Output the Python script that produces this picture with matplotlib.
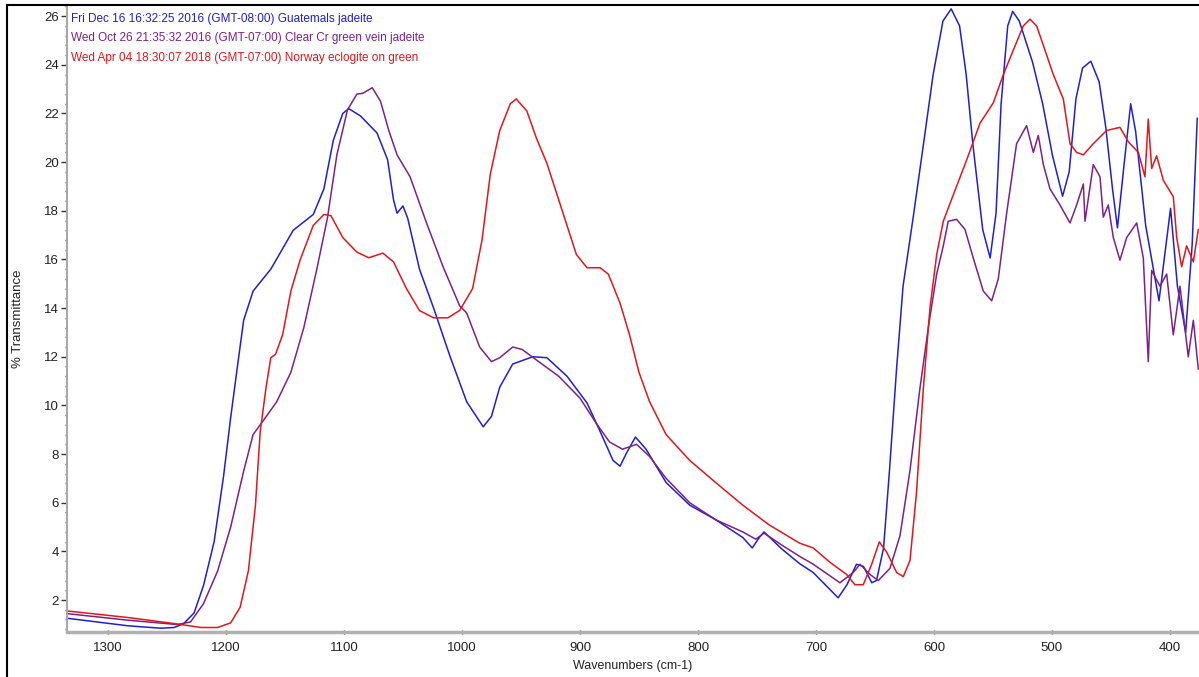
import matplotlib
matplotlib.use("Agg")
import matplotlib.pyplot as plt
from matplotlib.ticker import MultipleLocator
from matplotlib.lines import Line2D

# Guatemals jadeite (blue)
guat_wn = [1334.6, 1283, 1255, 1244, 1236, 1227, 1219, 1210, 1202, 1196, 1190, 1185, 1177, 1162,
           1143, 1126, 1117, 1109, 1101, 1096, 1086, 1072, 1063, 1058, 1055, 1050, 1046, 1036,
           1024, 1010, 996, 982, 975, 968, 957, 940, 928, 911, 894, 883, 872, 866, 861, 853, 844,
           827, 807, 785, 762, 754, 748, 744, 729, 714, 702.3, 681.2, 673.7, 665.7, 659.7, 652.7,
           648.7, 642.7, 637.7, 631.7, 626.2, 617.7, 609.3, 600.7, 592.4, 585.4, 578.3, 572.7,
           567.1, 558.7, 552.4, 547.4, 543.1, 537.5, 533.3, 527.7, 516.4, 507.9, 499.5, 491,
           485.4, 479.7, 474.1, 467.1, 460, 454.4, 448.7, 444.5, 438.9, 433.3, 429.1, 420.6,
           409.3, 399.5, 393.7, 386.7, 381.2, 376.9]
guat_t = [1.25, 0.94, 0.84, 0.87, 1.02, 1.47, 2.6, 4.4, 7.1, 9.5, 11.7, 13.5, 14.7, 15.6,
          17.2, 17.85, 18.9, 20.9, 22.0, 22.2, 21.9, 21.2, 20.1, 18.45, 17.9, 18.2, 17.7, 15.6,
          14.0, 12.0, 10.15, 9.12, 9.55, 10.75, 11.7, 12.0, 11.96, 11.2, 10.1, 8.94, 7.74, 7.5,
          8.0, 8.7, 8.2, 6.83, 5.9, 5.3, 4.57, 4.14, 4.57, 4.8, 4.1, 3.5, 3.13, 2.09, 2.63, 3.47,
          3.38, 2.71, 2.8, 4.14, 7.33, 11.5, 14.9, 17.7, 20.6, 23.6, 25.8, 26.3, 25.6, 23.6,
          20.76, 17.23, 16.06, 17.9, 22.4, 25.6, 26.2, 25.8, 24.1, 22.4, 20.26, 18.6, 19.6,
          22.6, 23.87, 24.15, 23.3, 21.43, 18.9, 17.3, 19.9, 22.4, 21.26, 17.4, 14.3, 18.1,
          14.9, 13.0, 16.6, 21.8]

# Clear Cr green vein jadeite (purple)
clear_wn = [1334.6, 1283, 1241, 1230, 1219, 1207, 1196, 1185, 1177, 1168, 1157, 1145, 1134,
            1123, 1114, 1106, 1097, 1089, 1084, 1076, 1069, 1062, 1055, 1044, 1030, 1016, 1002,
            996, 985, 975, 968, 957, 949, 935, 918, 900, 886, 875, 864, 852, 841, 827, 807, 785,
            762, 751, 744, 729, 714, 702.3, 679.7, 668.4, 662.7, 654.2, 647.2, 637.3, 628.8,
            620.3, 611.9, 604.8, 597.7, 592.1, 587.9, 580.8, 573.7, 566.7, 558.2, 551.1, 545.5,
            538.4, 530, 521.5, 515.8, 511.6, 507.3, 501.7, 493.2, 484.7, 479.1, 473.4, 472, 465,
            459.3, 456.5, 452.3, 448, 442.4, 436.7, 428.2, 422.6, 418.4, 415.5, 408.5, 402.8,
            397.2, 391.5, 384.5, 380.2, 376]
clear_t = [1.44, 1.17, 0.99, 1.1, 1.85, 3.2, 5.0, 7.3, 8.8, 9.4, 10.15, 11.36, 13.2, 15.6,
           17.7, 20.3, 22.15, 22.8, 22.83, 23.06, 22.5, 21.3, 20.3, 19.4, 17.5, 15.7, 14.1,
           13.8, 12.4, 11.8, 11.96, 12.4, 12.3, 11.8, 11.2, 10.3, 9.25, 8.5, 8.2, 8.4, 7.9, 7.0,
           6.0, 5.3, 4.8, 4.5, 4.75, 4.26, 3.8, 3.47, 2.71, 3.13, 3.47, 3.05, 2.8, 3.3, 4.64,
           7.33, 10.7, 13.2, 15.4, 16.56, 17.57, 17.65, 17.23, 16.06, 14.7, 14.3, 15.2, 17.9,
           20.76, 21.5, 20.4, 21.1, 19.9, 18.9, 18.24, 17.5, 18.24, 19.1, 17.57, 19.9, 19.4,
           17.74, 18.24, 16.9, 15.97, 16.9, 17.5, 16.06, 11.8, 15.55, 14.9, 15.4, 12.9, 14.9,
           12.0, 13.5, 11.5]

# Norway eclogite on green (red)
norway_wn = [1334.6, 1283, 1242, 1221, 1207, 1196, 1188, 1181, 1175, 1171, 1166, 1162, 1158,
             1152, 1145, 1137, 1126, 1117, 1111, 1101, 1089, 1079, 1067, 1058, 1047, 1036, 1024,
             1012, 1002, 991, 983, 976, 968, 959, 954, 945, 937, 928, 920, 911, 903, 894, 883,
             876, 866, 858, 850, 841, 827, 807, 785, 762, 740, 714, 702.3, 688.1, 674, 667,
             659.9, 652.8, 646.3, 640.1, 631.6, 626, 620.3, 614.7, 609, 603.4, 597.7, 592.1,
             583.6, 572.3, 561, 549.7, 541.2, 532.8, 524.3, 518.6, 513, 507.3, 498.9, 490.4,
             484.7, 479.1, 473.4, 465, 453.7, 442.4, 435.3, 426.8, 421.2, 418.4, 415.5, 411.3,
             405.6, 397.2, 394.3, 390.1, 385.9, 380.2, 376]
norway_t = [1.55, 1.28, 1.02, 0.87, 0.87, 1.06, 1.7, 3.2, 5.9, 8.9, 10.75, 11.96, 12.1, 12.9,
            14.7, 16.0, 17.4, 17.85, 17.8, 16.9, 16.3, 16.07, 16.26, 15.9, 14.8, 13.9, 13.6,
            13.6, 13.9, 14.8, 16.8, 19.5, 21.3, 22.4, 22.6, 22.1, 21.0, 19.95, 18.75, 17.4,
            16.2, 15.66, 15.66, 15.4, 14.2, 12.9, 11.36, 10.15, 8.8, 7.74, 6.83, 5.9, 5.1, 4.34,
            4.14, 3.55, 3.05, 2.63, 2.63, 3.47, 4.39, 3.97, 3.13, 2.96, 3.63, 6.48, 10.7, 14.0,
            16.2, 17.57, 18.66, 20.09, 21.6, 22.44, 23.6, 24.6, 25.6, 25.88, 25.6, 24.8, 23.6,
            22.6, 20.76, 20.4, 20.3, 20.76, 21.3, 21.43, 20.84, 20.4, 19.4, 21.77, 19.74, 20.26,
            19.25, 18.58, 16.9, 15.7, 16.56, 15.9, 17.23]

labels = ["Fri Dec 16 16:32:25 2016 (GMT-08:00) Guatemals jadeite",
          "Wed Oct 26 21:35:32 2016 (GMT-07:00) Clear Cr green vein jadeite",
          "Wed Apr 04 18:30:07 2018 (GMT-07:00) Norway eclogite on green"]
colors = ["#1f1fd6", "#7e2187", "#e3161c"]

plt.rcParams['font.family'] = ['Liberation Sans', 'DejaVu Sans']

W, H = 1199, 677
fig = plt.figure(figsize=(W / 100, H / 100), dpi=100)
ax = fig.add_axes([67 / W, (H - 632) / H, (W - 67) / W, (632 - 5) / H])

for wn, t, c in [(guat_wn, guat_t, colors[0]), (clear_wn, clear_t, colors[1]),
                 (norway_wn, norway_t, colors[2])]:
    ax.plot(wn, t, color=c, lw=1.1)

ax.set_xlim(1334.7, 375.4)
ax.set_ylim(0.685, 26.46)

ax.xaxis.set_major_locator(MultipleLocator(100))
ax.xaxis.set_minor_locator(MultipleLocator(20))
ax.yaxis.set_minor_locator(MultipleLocator(0.4))
ax.set_yticks(range(2, 27, 2))

for side in ['top', 'right']:
    ax.spines[side].set_visible(False)
ax.spines['left'].set_color('#a8a8a8')
ax.spines['left'].set_linewidth(1.5)
ax.spines['bottom'].set_color('#b0b0b0')
ax.spines['bottom'].set_linewidth(2.5)

ax.tick_params(axis='both', which='major', labelsize=9.5, colors='#333333', labelcolor='#222222')
ax.tick_params(axis='y', which='major', length=4, width=1, pad=2)
ax.tick_params(axis='y', which='minor', length=1.5, width=1, colors='#555555')
ax.tick_params(axis='x', which='major', length=3, width=1, pad=6, direction='inout')
ax.tick_params(axis='x', which='minor', length=1.5, width=1, colors='#555555', direction='inout')

ax.set_xlabel("Wavenumbers (cm-1)", fontsize=9, color='#222222', labelpad=4)
ax.set_ylabel("% Transmittance", fontsize=9.5, color='#222222')
ax.yaxis.set_label_coords(-(67 - 24) / (W - 67), 0.5)

for i, (lab, c) in enumerate(zip(labels, colors)):
    ax.text(1331, 25.9 - i * 0.8, lab, color=c, fontsize=8.5, ha='left', va='center')

# outer frame
fig.add_artist(Line2D([7 / W, 7 / W], [0, 1 - 5 / H], transform=fig.transFigure,
                      color='black', lw=1.5))
fig.add_artist(Line2D([7 / W, 1], [1 - 5 / H, 1 - 5 / H], transform=fig.transFigure,
                      color='black', lw=1.5))

fig.savefig("out.png", dpi=100)
